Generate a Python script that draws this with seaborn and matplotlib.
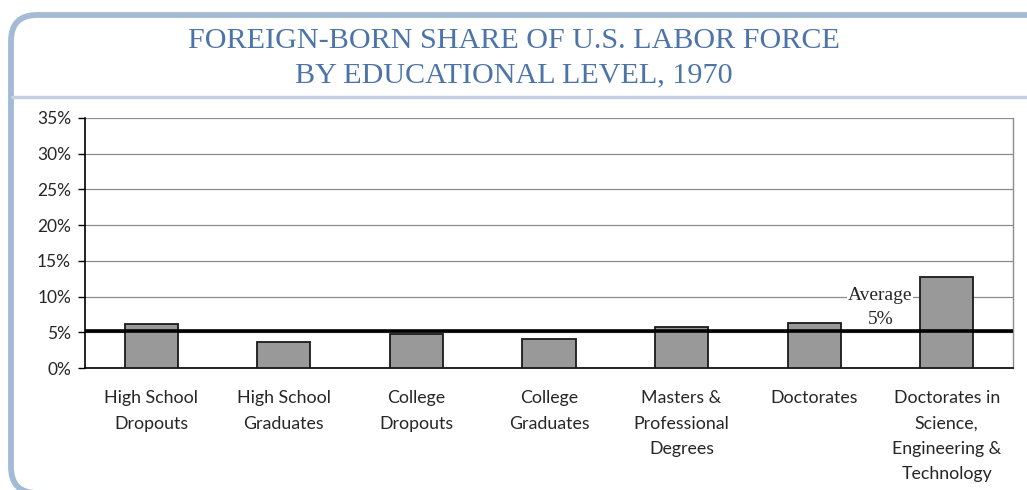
import matplotlib
matplotlib.use("Agg")
import matplotlib.pyplot as plt
from matplotlib.patches import FancyBboxPatch
from matplotlib.lines import Line2D
from matplotlib.ticker import FuncFormatter, FixedLocator
import seaborn as sns

# ── Données ────────────────────────────────────────────────────────────────
categories = [
    "High School\nDropouts",
    "High School\nGraduates",
    "College\nDropouts",
    "College\nGraduates",
    "Masters &\nProfessional\nDegrees",
    "Doctorates",
    "Doctorates in\nScience,\nEngineering &\nTechnology",
]
shares = [6.2, 3.6, 4.7, 4.1, 5.7, 6.3, 12.7]
average = 5.2
y_ticks = [0, 5, 10, 15, 20, 25, 30, 35]

TITLE = "FOREIGN-BORN SHARE OF U.S. LABOR FORCE\nBY EDUCATIONAL LEVEL, 1970"
FRAME_BLUE = "#a3bbd4"
TITLE_BLUE = "#4d74a8"

sns.set_style("white")
plt.rcParams["font.family"] = ["Lato", "DejaVu Sans"]

fig = plt.figure(figsize=(10.27, 4.90), dpi=100)
ax = fig.add_axes([85 / 1027, 1 - 368 / 490, 928 / 1027, 250 / 490])

# ── Cadre arrondi + titre ──────────────────────────────────────────────────
frame = FancyBboxPatch((11, -3), 1060, 478, boxstyle="round,pad=0,rounding_size=26",
                       transform=None, facecolor="none", edgecolor=FRAME_BLUE,
                       linewidth=4.2, zorder=0)
fig.patches.append(frame)
fig.lines.append(Line2D([12 / 1027, 1], [1 - 97 / 490] * 2, transform=fig.transFigure,
                        color="#c3d2e3", linewidth=2.5))
fig.text(0.5, 1 - 58 / 490, TITLE, ha="center", va="center", fontsize=21.7,
         color=TITLE_BLUE, family="Liberation Serif", linespacing=1.4)

# ── Barres ─────────────────────────────────────────────────────────────────
sns.barplot(x=categories, y=shares, color="#999999", edgecolor="#1a1a1a",
            linewidth=1.3, width=0.4, saturation=1, ax=ax, zorder=3)

ax.axhline(average, color="black", linewidth=2.6, zorder=4)
ax.text(5.5, 10.2, "Average", ha="center", va="center", fontsize=14,
        family="Liberation Serif", zorder=5,
        bbox=dict(facecolor="white", edgecolor="none", pad=0.5))
ax.text(5.5, 6.8, "5%", ha="center", va="center", fontsize=14,
        family="Liberation Serif", zorder=5)

# ── Axes ───────────────────────────────────────────────────────────────────
ax.set_xlim(-0.5, len(categories) - 0.5)
ax.set_ylim(0, 35)
ax.set_yticks(y_ticks)
ax.yaxis.set_major_formatter(FuncFormatter(lambda v, _: f"{v:.0f}%"))
ax.yaxis.grid(True, color="#8c8c8c", linewidth=0.9)
ax.set_axisbelow(True)

ax.xaxis.set_minor_locator(FixedLocator([i - 0.5 for i in range(len(categories) + 1)]))
ax.tick_params(axis="x", which="major", length=0, pad=16, labelsize=12.8)
ax.tick_params(axis="x", which="minor", length=7, width=1, color="black", direction="out")
ax.tick_params(axis="y", length=5, width=1, color="black", direction="out",
               labelsize=12.5, pad=5, left=True)
for lbl in ax.get_xticklabels():
    lbl.set_linespacing(1.72)
    lbl.set_va("top")

for side in ["left", "bottom"]:
    ax.spines[side].set_color("black")
    ax.spines[side].set_linewidth(1.2)
ax.spines["right"].set_color("#8c8c8c")
ax.spines["right"].set_linewidth(1)
ax.spines["top"].set_visible(False)
ax.set_xlabel("")
ax.set_ylabel("")

fig.savefig("out.png", dpi=100)
